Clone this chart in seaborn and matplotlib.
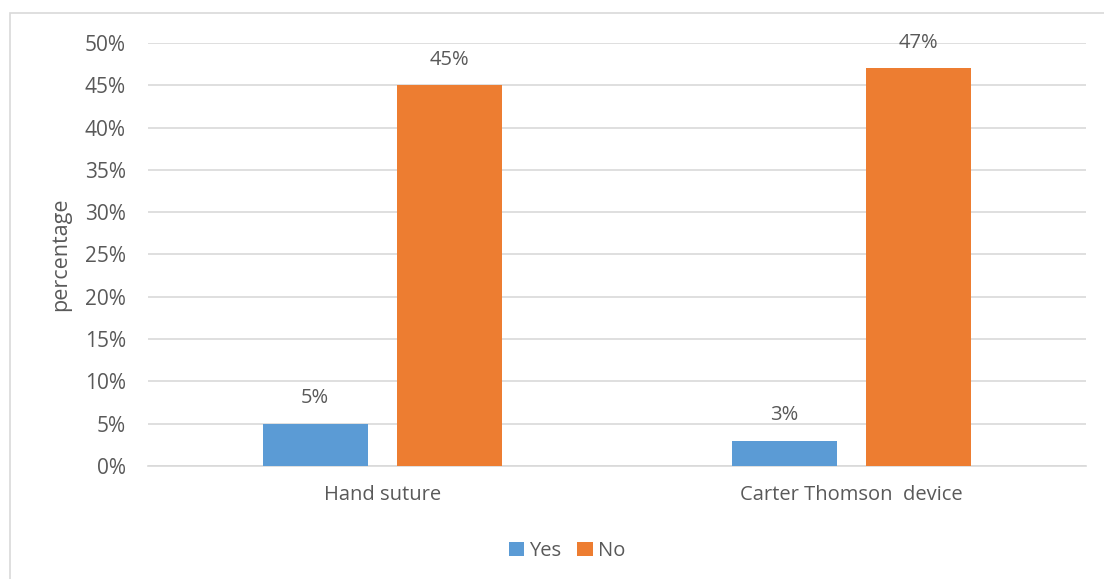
import matplotlib
matplotlib.use("Agg")
import matplotlib.pyplot as plt
import seaborn as sns
import pandas as pd
from matplotlib.patches import Rectangle, Patch
from matplotlib.ticker import PercentFormatter

categories = ["Hand suture", "Carter Thomson  device"]
series_names = ["Yes", "No"]
yes_values = [5, 3]
no_values = [45, 47]
y_ticks = [0, 5, 10, 15, 20, 25, 30, 35, 40, 45, 50]

df = pd.DataFrame({
    "category": categories * 2,
    "series": [series_names[0]] * len(categories) + [series_names[1]] * len(categories),
    "value": yes_values + no_values,
})

sns.set_theme(style="white")
plt.rcParams["font.family"] = ["Open Sans", "DejaVu Sans"]
text_color = "#595959"

fig = plt.figure(figsize=(11.04, 5.79), dpi=100)
ax = fig.add_axes([148 / 1104, 1 - 466 / 579, (1086 - 148) / 1104, (466 - 43) / 579])

palette = {"Yes": "#5B9BD5", "No": "#ED7D31"}
sns.barplot(data=df, x="category", y="value", hue="series", palette=palette,
            width=0.574, gap=0.22, ax=ax, saturation=1, legend=False, zorder=3,
            linewidth=0, edgecolor="none")

for cont in ax.containers:
    ax.bar_label(cont, labels=[f"{v:.0f}%" for v in cont.datavalues], padding=11,
                 fontsize=14.5, color=text_color)

ax.set_ylim(0, 50)
ax.set_xlim(-0.5, 1.5)
ax.set_yticks(y_ticks)
ax.yaxis.set_major_formatter(PercentFormatter(decimals=0))
ax.grid(axis="y", color="#D9D9D9", linewidth=1.2, zorder=0)
ax.grid(axis="x", visible=False)
for s in ["top", "right", "left"]:
    ax.spines[s].set_visible(False)
ax.spines["bottom"].set_color("#D9D9D9")
ax.spines["bottom"].set_linewidth(1.2)
ax.tick_params(axis="y", labelsize=15, labelcolor=text_color, length=0, pad=16)
ax.tick_params(axis="x", labelsize=14.5, labelcolor=text_color, length=0, pad=14)
ax.set_xlabel("")
ax.set_ylabel("percentage", fontsize=15.5, color=text_color, labelpad=10)

handles = [Patch(facecolor=palette[s], edgecolor="none") for s in series_names]
fig.legend(handles, series_names, loc="center", bbox_to_anchor=(567 / 1104, 1 - 551 / 579),
           ncol=2, frameon=False, fontsize=14.5, handlelength=0.75, handleheight=0.75,
           handletextpad=0.25, columnspacing=0.8, labelcolor=text_color)

fig.patches.append(Rectangle((10 / 1104, -0.1), 1.2, 1 - 13 / 579 + 0.1,
                             transform=fig.transFigure, fill=False,
                             edgecolor="#D9D9D9", linewidth=1.2))

fig.savefig("out.png", dpi=100)
